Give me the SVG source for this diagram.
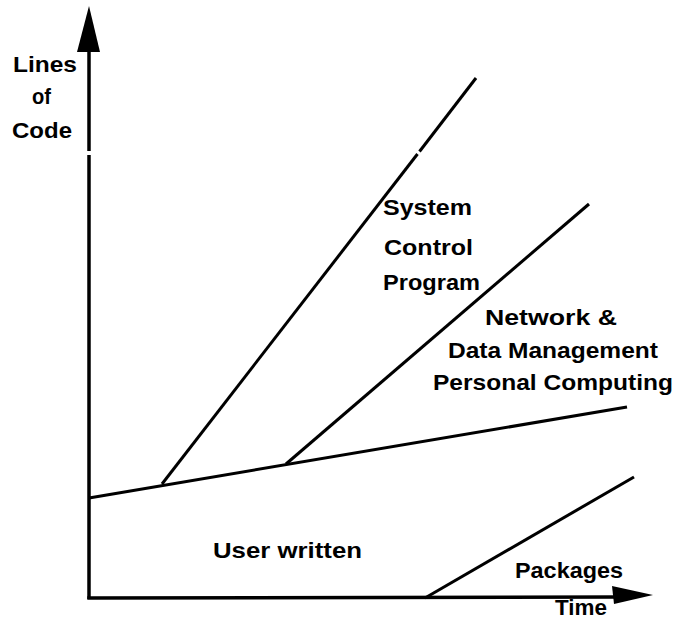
<svg xmlns="http://www.w3.org/2000/svg" width="681" height="634" viewBox="0 0 681 634">
<style>
.ln{stroke:#000;stroke-width:3;fill:none;stroke-linecap:butt}
.ax{stroke:#000;stroke-width:3.5;fill:none}
text{font-family:"Liberation Sans",Arial,sans-serif;font-weight:bold;font-size:22.5px;fill:#000}
</style>
<rect width="681" height="634" fill="#fff"/>
<g id="axes">
<line class="ax" x1="89" y1="40" x2="89" y2="151"/>
<line class="ax" x1="89" y1="155" x2="89" y2="599"/>
<line class="ax" x1="87.3" y1="598" x2="620" y2="597"/>
<polygon points="89,6 77,52 100,52" fill="#000"/>
<polygon points="653,595 612,586 614,604" fill="#000"/>
</g>
<g id="connectors">
<line class="ln" x1="89" y1="498" x2="627" y2="407"/>
<line class="ln" x1="162" y1="484" x2="417.5" y2="154"/>
<line class="ln" x1="419.5" y1="151.5" x2="476" y2="78"/>
<line class="ln" x1="286" y1="464" x2="589" y2="204"/>
<line class="ln" x1="425" y1="598" x2="634" y2="477"/>
</g>
<g id="yaxis-label">
<text x="13" y="72" textLength="64" lengthAdjust="spacingAndGlyphs">Lines</text>
<text x="32" y="104" textLength="19" lengthAdjust="spacingAndGlyphs">of</text>
<text x="12" y="138" textLength="60" lengthAdjust="spacingAndGlyphs">Code</text>
</g>
<g id="scp-label">
<text x="383" y="215" textLength="89" lengthAdjust="spacingAndGlyphs">System</text>
<text x="384" y="255" textLength="89" lengthAdjust="spacingAndGlyphs">Control</text>
<text x="383" y="290" textLength="97" lengthAdjust="spacingAndGlyphs">Program</text>
</g>
<g id="network-label">
<text x="485" y="325" textLength="132" lengthAdjust="spacingAndGlyphs">Network &amp;</text>
<text x="448" y="358" textLength="210" lengthAdjust="spacingAndGlyphs">Data Management</text>
<text x="433" y="390" textLength="240" lengthAdjust="spacingAndGlyphs">Personal Computing</text>
</g>
<g id="user-label">
<text x="213" y="558" textLength="149" lengthAdjust="spacingAndGlyphs">User written</text>
</g>
<g id="packages-label">
<text x="515" y="578" textLength="108" lengthAdjust="spacingAndGlyphs">Packages</text>
</g>
<g id="xaxis-label">
<text x="555" y="615" textLength="52" lengthAdjust="spacingAndGlyphs">Time</text>
</g>
</svg>
